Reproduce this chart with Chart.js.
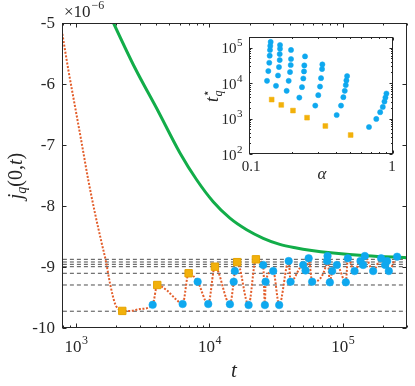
<!DOCTYPE html>
<html>
<head>
<meta charset="utf-8">
<script src="https://cdn.jsdelivr.net/npm/chart.js@4"></script>
<style>
  html, body { margin: 0; padding: 0; background: #fff; }
  #wrap { position: relative; width: 415px; height: 386px; }
  #main { position: absolute; left: 0; top: 0; }
  #inset { position: absolute; left: 200px; top: 30px; }
</style>
</head>
<body>
<div id="wrap">
  <canvas id="main" width="415" height="386"></canvas>
  <canvas id="inset" width="210" height="165"></canvas>
</div>
<script>
// ---- main panel data (values in units of 1e-6) ----
const redT = [790, 876, 983, 1103, 1237, 1388, 1558, 1669, 1798, 1960, 2136, 2222, 2540, 3010,
  3754, 4064, 4775, 5676, 6297, 6982, 8160, 9795, 10990, 14240, 15200, 15500, 16150, 19660,
  22300, 25290, 26040, 26360, 30060, 33330, 39270, 40580, 50440, 52550, 55430, 58880, 76270,
  76800, 79900, 83170, 90170, 105300, 109000, 122400, 135700, 141900, 146200, 168700, 193600,
  207500, 214700, 221100, 255100, 300000];
const redV = [-5.18, -5.77, -6.37, -6.97, -7.58, -8.12, -8.61, -8.89, -9.27, -9.60, -9.71, -9.72, -9.72, -9.69,
  -9.62, -9.295, -9.38, -9.54, -9.607, -9.103, -9.241, -9.607, -8.995, -9.61, -9.241, -9.066, -8.92, -9.623,
  -8.874, -8.967, -9.623, -9.241, -9.066, -9.623, -8.902, -9.241, -8.967, -9.057, -8.857, -9.241, -8.902,
  -8.820, -9.251, -9.066, -8.967, -9.251, -8.857, -9.066, -8.902, -8.967, -8.820, -9.066, -8.857,
  -8.967, -8.902, -9.066, -8.831, -8.84];

const circleT = [3754, 6297, 8160, 9795, 14240, 15200, 15500, 19660, 25290, 26040, 26360, 30060, 33330,
  39270, 40580, 50440, 52550, 55430, 58880, 76270, 76800, 79900, 83170, 90170, 105300, 109000,
  122400, 135700, 141900, 146200, 168700, 193600, 207500, 214700, 221100, 255100];
const circleV = [-9.62, -9.607, -9.241, -9.607, -9.61, -9.241, -9.066, -9.623, -8.967, -9.623, -9.241, -9.066, -9.623,
  -8.902, -9.241, -8.967, -9.057, -8.857, -9.241, -8.902, -8.820, -9.251, -9.066, -8.967, -9.251, -8.857,
  -9.066, -8.902, -8.967, -8.820, -9.066, -8.857, -8.967, -8.902, -9.066, -8.831];

const squareT = [2222, 4064, 6982, 10990, 16150, 22300];
const squareV = [-9.72, -9.295, -9.103, -8.995, -8.92, -8.874];

const greenT = [1513, 1910, 2767, 4046, 6012, 8017, 10670, 14240, 19000, 25300, 33700, 44950, 56600, 84600, 150500, 300000];
const greenV = [-4.51, -5.0, -5.738, -6.41, -7.13, -7.57, -7.93, -8.20, -8.39, -8.53, -8.63, -8.689, -8.725, -8.770, -8.815, -8.848];

const dashLevels = [-8.874, -8.918, -8.956, -8.995, -9.103, -9.295, -9.725];

const xMin = 785, xMax = 300000;
const yTicks = [-10, -9, -8, -7, -6, -5];
const xMajor = [1e3, 1e4, 1e5];
const xMajorExp = ['3', '4', '5'];

// ---- inset data ----
const insetAlpha = [0.1334, 0.1362, 0.1383, 0.1392, 0.1399, 0.1405, 0.1414,
  0.1540, 0.1590, 0.1615, 0.1634, 0.1634, 0.1642, 0.1642,
  0.1826, 0.1886, 0.1927, 0.1949, 0.1958, 0.1958,
  0.2236, 0.2333, 0.2383, 0.2410, 0.2422, 0.2449,
  0.2886, 0.3027, 0.3112, 0.3164, 0.3216, 0.3232,
  0.4063, 0.4356, 0.4521, 0.4624, 0.4700, 0.4746, 0.4800,
  0.6813, 0.7655, 0.8145, 0.8495, 0.8722, 0.8860, 0.9001];
const insetT = [11600, 21900, 37600, 59300, 86000, 112000, 145000,
  8400, 16400, 28400, 44700, 66000, 93300, 119000,
  6050, 11600, 20500, 32400, 47900, 86100,
  3900, 7700, 13500, 21400, 31600, 56800,
  2320, 4570, 8000, 13800, 24900, 33700,
  1260, 2320, 4010, 6050, 8780, 11900, 15800,
  578, 975, 1510, 2130, 3010, 3910, 5070];
const insetSqAlpha = [0.1437, 0.1675, 0.202, 0.253, 0.339, 0.508];
const insetSqT = [3430, 2430, 1680, 1060, 617, 343];
const insetYMajor = [1e2, 1e3, 1e4, 1e5];
const insetYExp = ['2', '3', '4', '5'];

const SERIF = '"Liberation Serif", "DejaVu Serif", serif';
const INK = '#262626';
const BLUE = '#0ea8ef';
const ORANGE = '#f2b10b';
const GREEN = '#12ad49';
const RED = '#e35e2b';

function pts(xs, ys) {
  return xs.map((x, i) => ({ x: x, y: ys[i] }));
}

function logTicks(min, max) {
  const out = [];
  for (let d = Math.floor(Math.log10(min)); d <= Math.ceil(Math.log10(max)); d++) {
    for (let m = 1; m < 10; m++) {
      const v = m * Math.pow(10, d);
      if (v >= min * 0.999 && v <= max * 1.001) out.push({ v: v, major: m === 1 });
    }
  }
  return out;
}

// "10" with a raised exponent
function powLabel(ctx, exp, x, y, size, align) {
  ctx.font = size + 'px ' + SERIF;
  const w1 = ctx.measureText('10').width;
  const small = Math.round(size * 0.7) + 'px ' + SERIF;
  ctx.font = small;
  const w2 = ctx.measureText(exp).width;
  const x0 = align === 'center' ? x - (w1 + w2) / 2 : x - w1 - w2;
  ctx.textAlign = 'left';
  ctx.textBaseline = 'alphabetic';
  ctx.font = size + 'px ' + SERIF;
  ctx.fillText('10', x0, y);
  ctx.font = small;
  ctx.fillText(exp, x0 + w1 + 0.5, y - size * 0.45);
}

// frame plus inward ticks on all four sides
function drawFrame(chart, xt, yt, len) {
  const { ctx, chartArea: a, scales } = chart;
  const L = Math.round(a.left) + 0.5, R = Math.round(a.right) - 0.5;
  const T = Math.round(a.top) + 0.5, B = Math.round(a.bottom) - 0.5;
  ctx.save();
  ctx.strokeStyle = INK;
  ctx.lineWidth = 1;
  ctx.beginPath();
  xt.forEach(t => {
    const px = Math.round(scales.x.getPixelForValue(t.v)) + 0.5;
    const l = t.major ? len : len / 2;
    ctx.moveTo(px, B); ctx.lineTo(px, B - l);
    ctx.moveTo(px, T); ctx.lineTo(px, T + l);
  });
  yt.forEach(t => {
    const py = Math.round(scales.y.getPixelForValue(t.v)) + 0.5;
    const l = t.major ? len : len / 2;
    ctx.moveTo(L, py); ctx.lineTo(L + l, py);
    ctx.moveTo(R, py); ctx.lineTo(R - l, py);
  });
  ctx.stroke();
  ctx.strokeRect(L, T, R - L, B - T);
  ctx.restore();
}

// draws a sequence of [text, style, size, dy] pieces
function pieces(ctx, parts, x, y) {
  let w = 0;
  parts.forEach(p => { ctx.font = p[1] + ' ' + p[2] + 'px ' + (p[4] || SERIF); p.w = ctx.measureText(p[0]).width; w += p.w; });
  let cx = x - w / 2;
  ctx.textAlign = 'left';
  ctx.textBaseline = 'alphabetic';
  parts.forEach(p => {
    ctx.font = p[1] + ' ' + p[2] + 'px ' + (p[4] || SERIF);
    ctx.fillText(p[0], cx, y + p[3]);
    cx += p.w;
  });
}

const mainAxes = {
  id: 'mainAxes',
  afterDraw(chart) {
    const { ctx, scales } = chart;
    drawFrame(chart, logTicks(xMin, xMax), yTicks.map(v => ({ v: v, major: true })), 4);
    ctx.save();
    ctx.fillStyle = INK;
    ctx.font = '17px ' + SERIF;
    ctx.textAlign = 'right';
    ctx.textBaseline = 'middle';
    yTicks.forEach(v => ctx.fillText(String(v), 55, scales.y.getPixelForValue(v) + 1));
    xMajor.forEach((v, i) => powLabel(ctx, xMajorExp[i], scales.x.getPixelForValue(v), 352, 17, 'center'));
    // exponent multiplier
    ctx.textAlign = 'left';
    ctx.textBaseline = 'alphabetic';
    ctx.font = '17px ' + SERIF;
    ctx.fillText('\u00d710', 64, 17);
    const w = ctx.measureText('\u00d710').width;
    ctx.font = '12px ' + SERIF;
    ctx.fillText('\u22126', 64 + w + 1, 9);
    // x title
    pieces(ctx, [['t', 'italic', 21, 0]], 234, 377);
    // y title
    ctx.translate(22, 176);
    ctx.rotate(-Math.PI / 2);
    pieces(ctx, [['j', 'italic', 20, 0], ['q', 'italic', 14, 4], ['(0,', 'normal', 20, 0],
      ['t', 'italic', 20, 0], [')', 'normal', 20, 0]], 0, 0);
    ctx.restore();
  }
};

const dashSets = dashLevels.map(v => ({
  data: [{ x: xMin * 0.9, y: v }, { x: xMax * 1.1, y: v }],
  borderColor: '#4d4d4d', borderWidth: 1, borderDash: [4, 3], pointRadius: 0
}));

new Chart(document.getElementById('main'), {
  type: 'line',
  data: {
    datasets: [
      { data: pts(squareT, squareV), showLine: false, pointStyle: 'rect', pointRadius: 5.2,
        pointBackgroundColor: ORANGE, pointBorderColor: '#e5a300', pointBorderWidth: 1 },
      { data: pts(circleT, circleV), showLine: false, pointStyle: 'circle', pointRadius: 3.8,
        pointBackgroundColor: BLUE, pointBorderColor: BLUE, pointBorderWidth: 0.5 },
      { data: pts(greenT, greenV), borderColor: GREEN, borderWidth: 3, pointRadius: 0,
        cubicInterpolationMode: 'monotone' },
      { data: pts(redT, redV), borderColor: RED, borderWidth: 2, borderDash: [2, 1.6], pointRadius: 0,
        cubicInterpolationMode: 'monotone' },
      ...dashSets
    ]
  },
  options: {
    responsive: false,
    animation: false,
    devicePixelRatio: 1,
    layout: { padding: { left: 62, top: 23, right: 8.5, bottom: 58 } },
    plugins: { legend: { display: false }, tooltip: { enabled: false } },
    scales: {
      x: { type: 'logarithmic', min: xMin, max: xMax, display: false },
      y: { type: 'linear', min: -10, max: -5, display: false }
    }
  },
  plugins: [mainAxes]
});

const insetAxes = {
  id: 'insetAxes',
  beforeDraw(chart) {
    const { ctx, chartArea: a } = chart;
    ctx.save();
    ctx.fillStyle = '#fff';
    ctx.fillRect(a.left, a.top, a.right - a.left, a.bottom - a.top);
    ctx.restore();
  },
  afterDraw(chart) {
    const { ctx, scales, chartArea: a } = chart;
    drawFrame(chart, logTicks(0.1, 1), logTicks(100, 2e5), 3);
    ctx.save();
    ctx.fillStyle = INK;
    insetYMajor.forEach((v, i) => powLabel(ctx, insetYExp[i], a.left - 7, scales.y.getPixelForValue(v) + 5.5, 15, 'right'));
    ctx.font = '15px ' + SERIF;
    ctx.textAlign = 'center';
    ctx.textBaseline = 'alphabetic';
    ctx.fillText('0.1', scales.x.getPixelForValue(0.1) + 2, a.bottom + 17);
    ctx.fillText('1', scales.x.getPixelForValue(1) - 1, a.bottom + 17);
    pieces(ctx, [['\u03b1', 'italic', 17, 0]], (a.left + a.right) / 2 + 1, a.bottom + 25);
    // rotated y title t*_q
    ctx.translate(18, (a.top + a.bottom) / 2);
    ctx.rotate(-Math.PI / 2);
    ctx.textAlign = 'left';
    ctx.font = 'italic 18px ' + SERIF;
    const tw = ctx.measureText('t').width;
    const x0 = -(tw + 8) / 2;
    ctx.fillText('t', x0, 0);
    ctx.font = '12px "DejaVu Sans"';
    ctx.fillText('\u22c6', x0 + tw, -8);
    ctx.font = 'italic 12px ' + SERIF;
    ctx.fillText('q', x0 + tw + 0.5, 4);
    ctx.restore();
  }
};

new Chart(document.getElementById('inset'), {
  type: 'line',
  data: {
    datasets: [
      { data: pts(insetSqAlpha, insetSqT), showLine: false, pointStyle: 'rect', pointRadius: 3.4,
        pointBackgroundColor: ORANGE, pointBorderColor: ORANGE, pointBorderWidth: 0.5 },
      { data: pts(insetAlpha, insetT), showLine: false, pointStyle: 'circle', pointRadius: 2.6,
        pointBackgroundColor: BLUE, pointBorderColor: BLUE, pointBorderWidth: 0.5 }
    ]
  },
  options: {
    responsive: false,
    animation: false,
    devicePixelRatio: 1,
    layout: { padding: { left: 49, top: 7, right: 17, bottom: 41 } },
    plugins: { legend: { display: false }, tooltip: { enabled: false } },
    scales: {
      x: { type: 'logarithmic', min: 0.1, max: 1, display: false },
      y: { type: 'logarithmic', min: 100, max: 2e5, display: false }
    }
  },
  plugins: [insetAxes]
});
</script>
</body>
</html>
